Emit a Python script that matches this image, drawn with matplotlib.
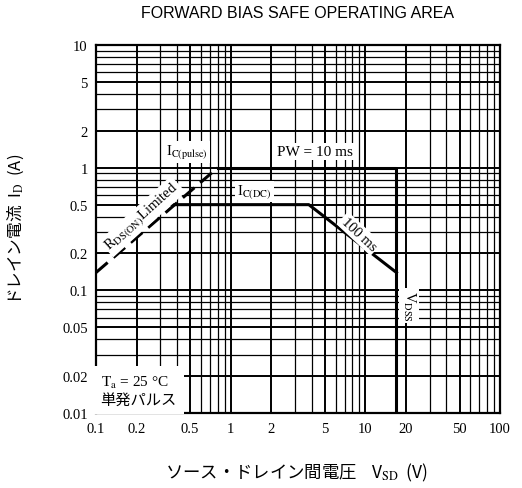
import numpy as np
import matplotlib
matplotlib.use("Agg")
import matplotlib.pyplot as plt

plt.rcParams['font.family'] = ['Liberation Serif', 'Noto Sans CJK JP', 'DejaVu Sans']
plt.rcParams['mathtext.fontset'] = 'stix'

# curve data (V, A)
rds_v = [0.1, 0.8]
rds_i = [0.14, 1.0]
pulse_v = [0.8, 17, 17]
pulse_i = [1.0, 1.0, 0.01]
dc_v = [0.38, 3.8, 17]
dc_i = [0.5, 0.5, 0.14]

x_ticks = [0.1, 0.2, 0.5, 1, 2, 5, 10, 20, 50, 100]
x_labels = ["0.1", "0.2", "0.5", "1", "2", "5", "10", "20", "50", "100"]
y_ticks = [0.01, 0.02, 0.05, 0.1, 0.2, 0.5, 1, 2, 5, 10]
y_labels = ["0.01", "0.02", "0.05", "0.1", "0.2", "0.5", "1", "2", "5", "10"]

fig = plt.figure(figsize=(5.22, 4.89), dpi=100)
ax = fig.add_axes([0.184, 0.153, 0.774, 0.753])
ax.set_xscale('log')
ax.set_yscale('log')
ax.set_xlim(0.1, 100)
ax.set_ylim(0.01, 10)

# graph paper grid
ax.grid(True, which='major', color='black', lw=1.4)
ax.grid(True, which='minor', color='black', lw=0.9)
ax.set_axisbelow(True)
for s in ax.spines.values():
    s.set_linewidth(1.6)

ax.set_xticks(x_ticks)
ax.set_xticklabels(x_labels)
ax.set_yticks(y_ticks)
ax.set_yticklabels(y_labels)
ax.tick_params(which='both', length=0, labelsize=10.5, pad=6)

# curves
ax.plot(rds_v, rds_i, color='black', lw=2.2, ls=(0, (5, 2.5)), zorder=3)
ax.plot(pulse_v, pulse_i, color='black', lw=2.2, zorder=3)
ax.plot(dc_v, dc_i, color='black', lw=2.2, zorder=3)

box = dict(facecolor='white', edgecolor='none', pad=1.5)
ax.text(0.47, 1.35, r"I$_{\mathrm{C(pulse)}}$", fontsize=10.5, ha='center', va='center', bbox=box, zorder=4)
ax.text(4.2, 1.35, "PW = 10 ms", fontsize=11, ha='center', va='center', bbox=box, zorder=4)
ax.text(1.5, 0.64, r"I$_{\mathrm{C(DC)}}$", fontsize=10.5, ha='center', va='center', bbox=box, zorder=4)
ax.text(0.22, 0.40, r"R$_{\mathrm{DS(ON)}}$Limited", fontsize=10.5, ha='center', va='center',
        rotation=42, bbox=box, zorder=4)
ax.text(9.0, 0.29, "100 ms", fontsize=10.5, ha='center', va='center', rotation=-43,
        bbox=box, zorder=4)
ax.text(21, 0.075, r"V$_{\mathrm{DSS}}$", fontsize=10.5, ha='center', va='center', rotation=-90,
        bbox=box, zorder=4)
ax.text(0.108, 0.0112, "T$_{\\mathrm{a}}$ = 25 °C\n単発パルス", fontsize=11, ha='left', va='bottom',
        linespacing=1.3, bbox=dict(facecolor='white', edgecolor='none', pad=5), zorder=4)

fig.text(0.57, 0.972, "FORWARD BIAS SAFE OPERATING AREA", fontsize=11.5, ha='center', va='center',
         family=['Liberation Sans', 'DejaVu Sans'])
fig.text(0.03, 0.53, "ドレイン電流  I$_\\mathrm{D}$  (A)", fontsize=12, ha='center', va='center',
         rotation=90, family=['Noto Sans CJK JP', 'DejaVu Sans'])
fig.text(0.568, 0.033, "ソース・ドレイン間電圧    V$_\\mathrm{SD}$  (V)", fontsize=12.5, ha='center',
         va='center', family=['Noto Sans CJK JP', 'DejaVu Sans'])

fig.savefig("out.png", dpi=100)
